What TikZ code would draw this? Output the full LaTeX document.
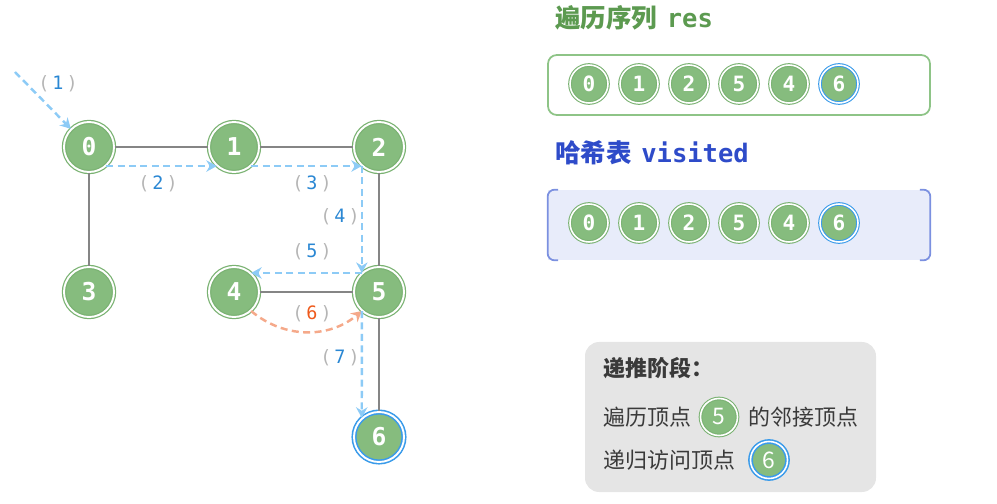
\documentclass[tikz,border=0pt]{standalone}
\usepackage{fontspec}
\usepackage{xcolor}
\usepackage{tikz}
\usetikzlibrary{arrows.meta,positioning,calc}
\setmonofont{DejaVu Sans Mono}
\newfontfamily\cjk{Noto Sans CJK SC}
\definecolor{nodegreen}{HTML}{86BC7E}
\definecolor{ringgreen}{HTML}{7AB272}
\definecolor{ringblue}{HTML}{3A9BEA}
\definecolor{flowblue}{HTML}{8DCBF6}
\definecolor{numblue}{HTML}{2A87D3}
\definecolor{arcorange}{HTML}{F5A98A}
\definecolor{numorange}{HTML}{EE5A1C}
\definecolor{edgegray}{HTML}{858585}
\definecolor{parengray}{HTML}{B5B5B5}
\definecolor{titlegreen}{HTML}{5C9A50}
\definecolor{titleblue}{HTML}{2E4BC9}
\definecolor{resline}{HTML}{8EC487}
\definecolor{visfill}{HTML}{E8ECFA}
\definecolor{visline}{HTML}{7B90E0}
\definecolor{panelgray}{HTML}{E5E5E5}
\definecolor{paneltext}{HTML}{3A3A3A}
\newcommand{\seqlabel}[2]{{\ttfamily\textcolor{parengray}{(}\,\textcolor{#1}{#2}\,\textcolor{parengray}{)}}}

\begin{document}
\begin{tikzpicture}[node distance=2.9cm, on grid]
    \tikzset{
      vertex/.style={circle,fill=nodegreen,draw=ringgreen,double=white,line width=0.7pt,double distance=1.1pt,minimum size=1.0cm,inner sep=0pt,text=white,font=\ttfamily\bfseries\fontsize{14}{14}\selectfont},
      seen/.style={draw=ringblue,line width=0.9pt},
      chip/.style={vertex,minimum size=0.76cm,line width=0.6pt,double distance=0.9pt,font=\ttfamily\bfseries\fontsize{12}{12}\selectfont},
      keychip/.style={chip,minimum size=0.74cm,font=\cjk\fontsize{13}{13}\selectfont},
      edge/.style={draw=edgegray,line width=1.7pt},
      visit/.style={draw=flowblue,line width=1.4pt,dash pattern=on 4pt off 2.5pt,-{Stealth[length=6pt,width=6.5pt]}},
      back/.style={visit,draw=arcorange},
      tag/.style={inner sep=0pt,font=\fontsize{10.5}{11}\selectfont},
      title/.style={anchor=west,inner sep=0pt,font=\fontsize{14.5}{16}\selectfont\bfseries},
      note/.style={anchor=west,inner sep=0pt,text=paneltext,font=\cjk\fontsize{12.5}{14}\selectfont},
      resbox/.style={rounded corners=5pt,draw=resline,line width=1pt,fill=white,minimum width=7.64cm,minimum height=1.2cm},
      visbox/.style={fill=visfill,minimum width=7.64cm,minimum height=1.4cm,inner sep=0pt},
      bracket/.style={draw=visline,line width=1pt,rounded corners=4pt},
      panel/.style={rounded corners=8pt,fill=panelgray,minimum width=5.82cm,minimum height=3.0cm}
    }
    \useasboundingbox (0,0) rectangle (19.94,-10.08);
    % graph
    \node[vertex] (n0) at (1.78,-2.94) {0};
    \node[vertex,right=of n0] (n1) {1};
    \node[vertex,right=of n1] (n2) {2};
    \node[vertex,below=of n0] (n3) {3};
    \node[vertex,below=of n1] (n4) {4};
    \node[vertex,below=of n2] (n5) {5};
    \node[vertex,seen,below=of n5] (n6) {6};
    \coordinate (entry) at (0.30,-1.44);
    \draw[edge] (n0) -- (n1);
    \draw[edge] (n1) -- (n2);
    \draw[edge] (n0) -- (n3);
    \draw[edge] (n2) -- (n5);
    \draw[edge] (n4) -- (n5);
    \draw[edge] (n5) -- (n6);
    \draw[visit] (entry) -- (n0.135);
    \draw[visit] (n0.-48) -- (n1.-132);
    \draw[visit] (n1.-48) -- (n2.-132);
    \draw[visit] (n2.-132) -- (n5.132);
    \draw[visit] (n5.132) -- (n4.48);
    \draw[back] (n4.-48) to[bend right=40] (n5.-132);
    \draw[visit] (n5.-132) -- (n6.132);
    \node[tag] (t1) at (1.16,-1.68) {\seqlabel{numblue}{1}};
    \node[tag] (t2) at (3.16,-3.68) {\seqlabel{numblue}{2}};
    \node[tag] (t3) at (6.24,-3.68) {\seqlabel{numblue}{3}};
    \node[tag] (t4) at (6.80,-4.34) {\seqlabel{numblue}{4}};
    \node[tag] (t5) at (6.24,-5.04) {\seqlabel{numblue}{5}};
    \node[tag] (t6) at (6.24,-6.28) {\seqlabel{numorange}{6}};
    \node[tag] (t7) at (6.80,-7.16) {\seqlabel{numblue}{7}};
    % res
    \node[title,text=titlegreen] (restitle) at (11.10,-0.36) {{\cjk 遍历序列} {\ttfamily res}};
    \node[resbox] (resbox) at (14.78,-1.70) {};
    \foreach \v/\c [count=\i from 0] in {0/ringgreen,1/ringgreen,2/ringgreen,5/ringgreen,4/ringgreen,6/ringblue}
      \node[chip,draw=\c] (r\i) at ({11.78+\i},-1.68) {\v};
    % visited
    \node[title,text=titleblue] (vistitle) at (11.10,-3.06) {{\cjk 哈希表} {\ttfamily visited}};
    \node[visbox] (visbox) at (14.78,-4.50) {};
    \draw[bracket] ([xshift=6pt]visbox.north west) -- (visbox.north west) -- (visbox.south west) -- ([xshift=6pt]visbox.south west);
    \draw[bracket] ([xshift=-6pt]visbox.north east) -- (visbox.north east) -- (visbox.south east) -- ([xshift=-6pt]visbox.south east);
    \foreach \v/\c [count=\i from 0] in {0/ringgreen,1/ringgreen,2/ringgreen,5/ringgreen,4/ringgreen,6/ringblue}
      \node[chip,draw=\c] (v\i) at ({11.78+\i},-4.46) {\v};
    % stage panel
    \node[panel] (stage) at (14.61,-8.34) {};
    \node[note,font=\cjk\fontsize{12.5}{14}\selectfont\bfseries] (stagehead) at (12.06,-7.36) {递推阶段：};
    \node[note] (l2a) at (12.06,-8.34) {遍历顶点};
    \node[keychip] (k5) at (14.38,-8.34) {5};
    \node[note] (l2b) at (14.96,-8.34) {的邻接顶点};
    \node[note] (l3a) at (12.06,-9.20) {递归访问顶点};
    \node[keychip,seen] (k6) at (15.38,-9.20) {6};
  \end{tikzpicture}
\end{document}
